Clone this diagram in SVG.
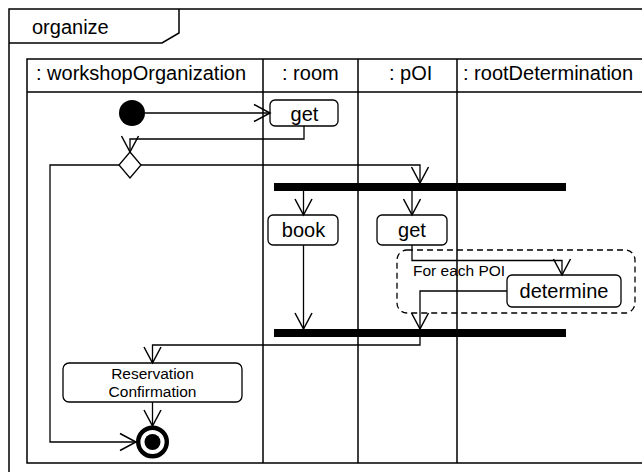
<svg xmlns="http://www.w3.org/2000/svg" width="642" height="472" viewBox="0 0 642 472">
  <style>
    .frame { fill: none; stroke: #000; stroke-width: 1.5; }
    .action { fill: #fff; stroke: #000; stroke-width: 1.3; }
    .lbl { font-family: "Liberation Sans", Arial, sans-serif; font-size: 20px; fill: #000; }
    .small { font-family: "Liberation Sans", Arial, sans-serif; font-size: 15.5px; fill: #000; }
    .mid { text-anchor: middle; }
    .flow { fill: none; stroke: #000; stroke-width: 1.3; marker-end: url(#open); }
    .bar { fill: #000; }
  </style>
  <defs>
    <marker id="open" markerUnits="userSpaceOnUse" markerWidth="22" markerHeight="22" viewBox="-19 -11 22 22" refX="0" refY="0" orient="auto">
      <path d="M-16,-8.5 L0,0 L-16,8.5" fill="none" stroke="#000" stroke-width="1.5"/>
    </marker>
  </defs>

  <rect width="642" height="472" fill="#fff"/>

  <!-- activity frame with name tab -->
  <g id="frame">
    <path class="frame" d="M9,480 V9 H660"/>
    <path class="frame" d="M9,43 H162 L179,33 V9"/>
    <text class="lbl" x="32" y="34">organize</text>
  </g>

  <!-- partitions -->
  <g id="partitions">
    <path class="frame" d="M660,59 H27 V463 H660 M27,92 H660 M263,59 V463 M358,59 V463 M457,59 V463"/>
    <text class="lbl" x="36" y="80">: workshopOrganization</text>
    <text class="lbl" x="282" y="80">: room</text>
    <text class="lbl" x="389" y="80">: pOI</text>
    <text class="lbl" x="463" y="80">: rootDetermination</text>
  </g>

  <!-- loop region -->
  <g id="forEachRegion">
    <rect x="397" y="250" width="238" height="63" rx="10" fill="none" stroke="#000" stroke-width="1.3" stroke-dasharray="6 4"/>
    <text class="small" x="413" y="276">For each POI</text>
  </g>

  <g id="initial">
    <circle cx="132" cy="113" r="13" fill="#000"/>
  </g>

  <g id="getRoom">
    <rect class="action" x="270" y="100" width="68" height="26" rx="5"/>
    <text class="lbl mid" x="304.5" y="120.5">get</text>
  </g>

  <g id="decision">
    <polygon points="130,152 141,165 130,178 119,165" fill="#fff" stroke="#000" stroke-width="1.3"/>
  </g>

  <g id="fork">
    <rect class="bar" x="274" y="183" width="292" height="8"/>
  </g>

  <g id="book">
    <rect class="action" x="268" y="215" width="70" height="30" rx="5"/>
    <text class="lbl mid" x="303.5" y="236.5">book</text>
  </g>

  <g id="getPOI">
    <rect class="action" x="377" y="215" width="70" height="30" rx="5"/>
    <text class="lbl mid" x="412" y="236.5">get</text>
  </g>

  <g id="determine">
    <rect class="action" x="507" y="275" width="114" height="32" rx="5"/>
    <text class="lbl mid" x="564" y="298">determine</text>
  </g>

  <g id="join">
    <rect class="bar" x="274" y="329" width="292" height="8"/>
  </g>

  <g id="reservationConfirmation">
    <rect class="action" x="63" y="363" width="179" height="39" rx="6"/>
    <text class="small mid" x="152.5" y="379">Reservation</text>
    <text class="small mid" x="152.5" y="397">Confirmation</text>
  </g>

  <g id="final">
    <circle cx="152.5" cy="442" r="14.3" fill="#fff" stroke="#000" stroke-width="4.4"/>
    <circle cx="152.5" cy="442" r="8" fill="#000"/>
  </g>

  <!-- control flows -->
  <g id="connectors">
    <path class="flow" d="M145,113 H270"/>
    <path class="flow" d="M304,126 V139 H130 V152"/>
    <path class="flow" d="M141,165 H420 V183"/>
    <path class="flow" d="M119,165 H50 V442 H136"/>
    <path class="flow" d="M303.5,191 V215"/>
    <path class="flow" d="M412,191 V215"/>
    <path class="flow" d="M412,245 V260.5 H562 V275"/>
    <path class="flow" d="M303.5,245 V329"/>
    <path class="flow" d="M507,291 H420 V329"/>
    <path class="flow" d="M420,337 V345 H152.5 V363"/>
    <path class="flow" d="M152.5,402 V426"/>
  </g>
</svg>
